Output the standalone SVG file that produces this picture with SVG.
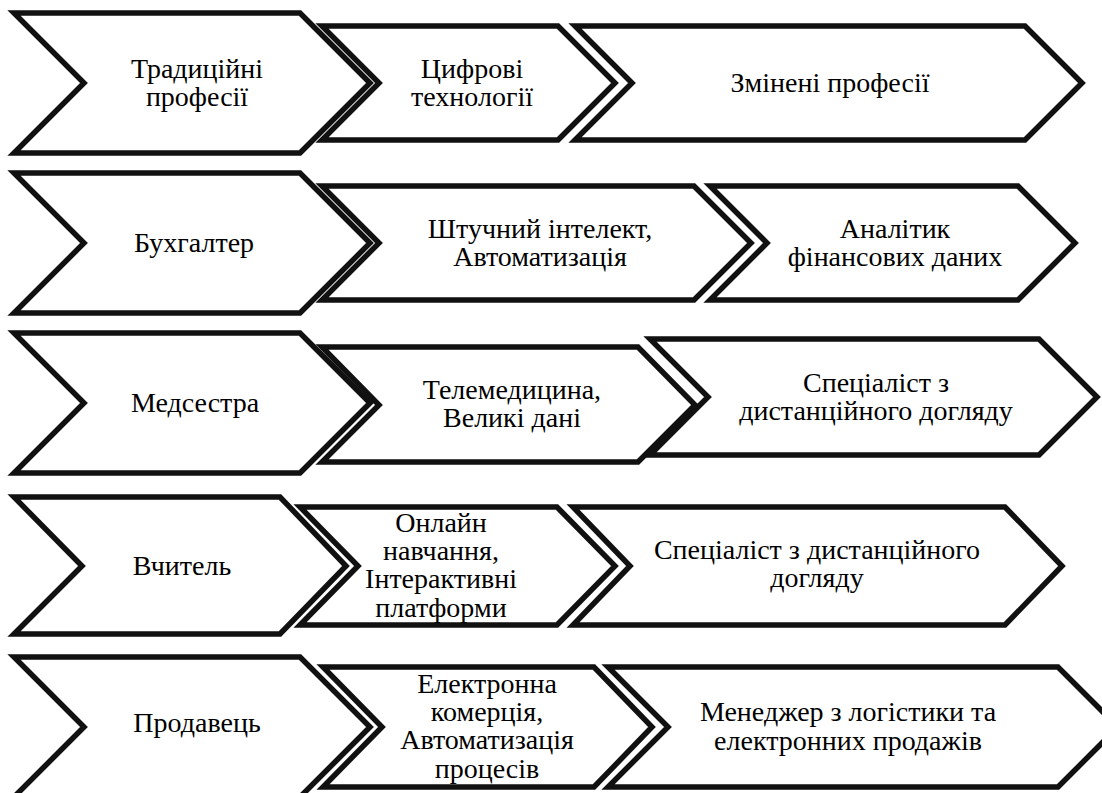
<svg xmlns="http://www.w3.org/2000/svg" width="1102" height="793" viewBox="0 0 1102 793">
<style>
.ch{fill:#fff;stroke:#111;stroke-width:5.5;stroke-linejoin:miter}
text{font-family:"Liberation Serif","Times New Roman","DejaVu Serif",serif;font-size:28px;fill:#000;text-anchor:middle}
</style>
<rect width="1102" height="793" fill="#fff"/>
<g id="connectors"></g>
<g id="row1">
<g id="n-trad"><polygon class="ch" points="14,13 300,13 370,83 300,153 14,153 84,83"/><text x="197" y="78">Традиційні</text><text x="197" y="106">професії</text></g>
<g id="n-digital"><polygon class="ch" points="322,26 558,26 615,83 558,140 322,140 379,83"/><text x="472" y="78">Цифрові</text><text x="472" y="106">технології</text></g>
<g id="n-changed"><polygon class="ch" points="575,26 1025,26 1082,83 1025,140 575,140 632,83"/><text x="830" y="92">Змінені професії</text></g>
</g>
<g id="row2">
<g id="n-buh"><polygon class="ch" points="14,173 300,173 370,243 300,313 14,313 84,243"/><text x="194" y="252">Бухгалтер</text></g>
<g id="n-ai"><polygon class="ch" points="322,186 694,186 751,243 694,300 322,300 379,243"/><text x="540" y="238">Штучний інтелект,</text><text x="540" y="266">Автоматизація</text></g>
<g id="n-analyst"><polygon class="ch" points="710,186 1018,186 1075,243 1018,300 710,300 767,243"/><text x="895" y="238">Аналітик</text><text x="895" y="266">фінансових даних</text></g>
</g>
<g id="row3">
<g id="n-nurse"><polygon class="ch" points="14,333 300,333 370,403 300,473 14,473 84,403"/><text x="195" y="412">Медсестра</text></g>
<g id="n-tele"><polygon class="ch" points="322,347 638,347 695,405 638,462 322,462 379,405"/><text x="512" y="399">Телемедицина,</text><text x="512" y="427">Великі дані</text></g>
<g id="n-remote1"><polygon class="ch" points="650,339 1039,339 1097,397 1039,455 650,455 708,397"/><text x="876" y="392">Спеціаліст з</text><text x="876" y="420">дистанційного догляду</text></g>
</g>
<g id="row4">
<g id="n-teacher"><polygon class="ch" points="14,497 280,497 346,566 280,634 14,634 82,566"/><text x="182" y="575">Вчитель</text></g>
<g id="n-online"><polygon class="ch" points="300,507 557,507 615,566 557,625 300,625 358,566"/><text x="441" y="532">Онлайн</text><text x="441" y="560">навчання,</text><text x="441" y="588">Інтерактивні</text><text x="441" y="617">платформи</text></g>
<g id="n-remote2"><polygon class="ch" points="573,507 1005,507 1062,566 1005,625 573,625 630,566"/><text x="817" y="559">Спеціаліст з дистанційного</text><text x="817" y="587">догляду</text></g>
</g>
<g id="row5">
<g id="n-seller"><polygon class="ch" points="14,657 300,657 370,727 300,797 14,797 84,727"/><text x="197" y="732">Продавець</text></g>
<g id="n-ecom"><polygon class="ch" points="323,667 594,667 652,727 594,787 323,787 382,727"/><text x="487" y="693">Електронна</text><text x="487" y="721">комерція,</text><text x="487" y="749">Автоматизація</text><text x="487" y="778">процесів</text></g>
<g id="n-logist"><polygon class="ch" points="608,667 1058,667 1118,727 1058,787 608,787 668,727"/><text x="848" y="721">Менеджер з логістики та</text><text x="848" y="750">електронних продажів</text></g>
</g>
</svg>
